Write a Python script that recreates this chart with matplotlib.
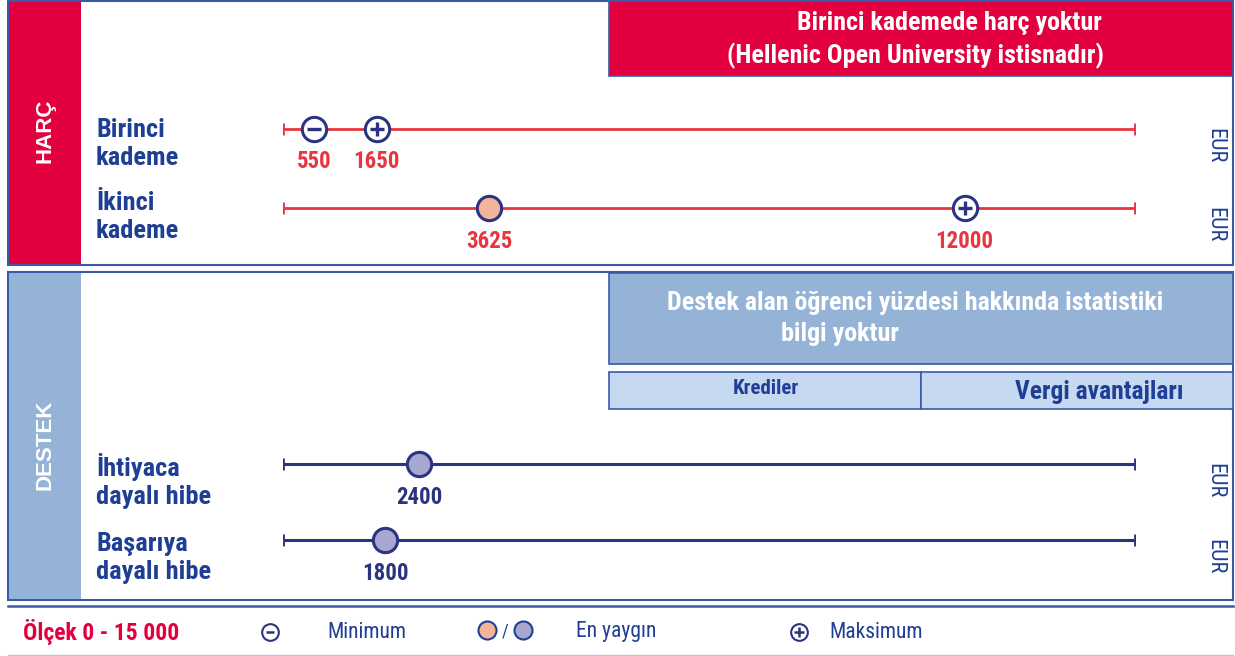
import matplotlib
matplotlib.use("Agg")
import matplotlib.pyplot as plt
from matplotlib.patches import Rectangle
from matplotlib import font_manager as fm

# ---------------- data ----------------
scale_max = 15000
fee_rows = ["Birinci\nkademe", "İkinci\nkademe"]
fee_min = [550, None]
fee_common = [None, 3625]
fee_max = [1650, 12000]
support_rows = ["İhtiyaca\ndayalı hibe", "Başarıya\ndayalı hibe"]
support_common = [2400, 1800]
unit = "EUR"
fee_note = ["Birinci kademede harç yoktur", "(Hellenic Open University istisnadır)"]
support_note = ["Destek alan öğrenci yüzdesi hakkında istatistiki", "bilgi yoktur"]
sub_boxes = ["Krediler", "Vergi avantajları"]
scale_label = "Ölçek 0 - 15 000"
legend_labels = ["Minimum", "En yaygın", "Maksimum"]

# ---------------- fonts ----------------
_names = {f.name for f in fm.fontManager.ttflist}
def pick(cands):
    for c in cands:
        if c in _names:
            return c
    return "DejaVu Sans"
NARROW_NAME = pick(["Arial Narrow", "Liberation Sans Narrow", "Roboto Condensed",
                    "Archivo Narrow", "PT Sans Narrow", "IBM Plex Sans Condensed"])
NARROW = [NARROW_NAME, "DejaVu Sans"]
SANS = [pick(["Arial", "Liberation Sans", "Arimo"]), "DejaVu Sans"]

# ---------------- style ----------------
RED = "#E2003F"
LINE_RED = "#E8353F"
NAVY = "#2B3480"
DARKBLUE = "#1E3F94"
LIGHTBLUE = "#95B3D7"
PALEBLUE = "#C6D9F0"
BORDER = "#3A5AA8"
SALMON = "#F2B59A"
LAVENDER = "#A9A7D0"
W, H = 1235, 656

fig = plt.figure(figsize=(W / 100, H / 100), dpi=100)
bg = fig.add_axes([0, 0, 1, 1])
bg.set_xlim(0, W)
bg.set_ylim(H, 0)
bg.axis("off")

def rect(x0, y0, x1, y1, fc, ec="none", lw=1.5, z=1):
    bg.add_patch(Rectangle((x0, y0), x1 - x0, y1 - y0, facecolor=fc,
                           edgecolor=ec, linewidth=lw, zorder=z))

# top panel
rect(8, 1, 1233, 265, "white", BORDER, 1.5)
rect(9, 2, 81, 264, RED, z=2)
bg.text(45, 131, "HARÇ", rotation=90, color="white", fontsize=16,
        fontweight="bold", ha="center", va="center", family=SANS, zorder=3)
rect(609, 1, 1233, 76, RED, BORDER, 1.2, z=2)
bg.text(1102, 23, fee_note[0], color="white", fontsize=18.7, fontweight="bold",
        ha="right", va="center", family=NARROW, zorder=3)
bg.text(1104, 56, fee_note[1], color="white", fontsize=18.7, fontweight="bold",
        ha="right", va="center", family=NARROW, zorder=3)

# bottom panel
rect(8, 272, 1233, 600, "white", BORDER, 1.5)
rect(9, 273, 81, 599, LIGHTBLUE, z=2)
bg.text(45, 445, "DESTEK", rotation=90, color="white", fontsize=16,
        fontweight="bold", ha="center", va="center", family=SANS, zorder=3)
rect(609, 273, 1233, 364, LIGHTBLUE, BORDER, 1.2, z=2)
bg.text(915, 303, support_note[0], color="white",
        fontsize=18.7, fontweight="bold", ha="center", va="center", family=NARROW, zorder=3)
bg.text(840, 334, support_note[1], color="white",
        fontsize=18.7, fontweight="bold", ha="center", va="center", family=NARROW, zorder=3)
rect(609, 372, 921, 409, PALEBLUE, BORDER, 1.2, z=2)
rect(921, 372, 1233, 409, PALEBLUE, BORDER, 1.2, z=2)
bg.text(766, 389, sub_boxes[0], color=DARKBLUE, fontsize=15, fontweight="bold",
        ha="center", va="center", family=NARROW, zorder=3)
bg.text(1099, 392, sub_boxes[1], color=DARKBLUE, fontsize=18.4, fontweight="bold",
        ha="center", va="center", family=NARROW, zorder=3)

# row labels
fee_y = [129, 208]
sup_y = [464, 540]
label_centers = [144, 217, 481, 558]
for lab, yc in zip(fee_rows + support_rows, label_centers):
    bg.text(96, yc, lab, color=DARKBLUE, fontsize=19, fontweight="bold",
            ha="left", va="center", family=NARROW, linespacing=1.22, zorder=3)
for y in fee_y + sup_y:
    bg.text(1215, y + 17, unit, rotation=270, color=DARKBLUE, fontsize=16,
            ha="center", va="center", family=NARROW, zorder=3)

# data axes
ax = fig.add_axes([283 / W, 0, 852 / W, 1])
ax.set_xlim(0, scale_max)
ax.set_ylim(H, 0)
ax.axis("off")
ax.patch.set_alpha(0)

MS = 17.5
def sym(x, y, kind, face="white"):
    ax.plot([x], [y], "o", ms=MS, mfc=face, mec=NAVY, mew=2.2, zorder=5)
    if kind == "min":
        ax.plot([x], [y], "_", ms=10, mec=NAVY, mew=2.4, zorder=6)
    elif kind == "max":
        ax.plot([x], [y], "+", ms=10, mec=NAVY, mew=2.4, zorder=6)

for i, y in enumerate(fee_y):
    ax.plot([0, scale_max], [y, y], color=LINE_RED, lw=2, zorder=2)
    ax.plot([0, scale_max], [y, y], "|", ms=9, mec=LINE_RED, mew=2, zorder=2)
    for v, kind in ((fee_min[i], "min"), (fee_common[i], "common"), (fee_max[i], "max")):
        if v is None:
            continue
        if kind == "common":
            sym(v, y, "none", SALMON)
        else:
            sym(v, y, kind)
        ax.text(v, y + 33, f"{v}", color=LINE_RED, fontsize=16.5, fontweight="bold",
                ha="center", va="center", family=NARROW, zorder=6)

for i, y in enumerate(sup_y):
    ax.plot([0, scale_max], [y, y], color=NAVY, lw=2.2, zorder=2)
    ax.plot([0, scale_max], [y, y], "|", ms=9, mec=NAVY, mew=2, zorder=2)
    v = support_common[i]
    sym(v, y, "none", LAVENDER)
    ax.text(v, y + 33, f"{v}", color=NAVY, fontsize=16.5, fontweight="bold",
            ha="center", va="center", family=NARROW, zorder=6)

# legend / footer
bg.plot([8, 1233], [606, 606], color=BORDER, lw=1.8)
bg.plot([8, 1233], [655, 655], color="#B8C4DA", lw=1)
ly = 632
bg.text(23, ly, scale_label, color=RED, fontsize=17, fontweight="bold",
        ha="left", va="center", family=NARROW)
bg.plot([270], [ly], "o", ms=12, mfc="white", mec=NAVY, mew=1.5)
bg.plot([270], [ly], "_", ms=6, mec=NAVY, mew=1.8)
bg.text(327, ly, legend_labels[0], color=DARKBLUE, fontsize=15.5, ha="left",
        va="center", family=NARROW)
bg.plot([487], [ly - 2], "o", ms=13, mfc=SALMON, mec=DARKBLUE, mew=1.5)
bg.text(505, ly, "/", color=DARKBLUE, fontsize=13, ha="center", va="center", family=NARROW)
bg.plot([523], [ly - 2], "o", ms=13, mfc=LAVENDER, mec=DARKBLUE, mew=1.5)
bg.text(576, ly, legend_labels[1], color=DARKBLUE, fontsize=15.5, ha="left",
        va="center", family=NARROW)
bg.plot([799], [ly], "o", ms=12, mfc="white", mec=NAVY, mew=1.5)
bg.plot([799], [ly], "+", ms=7, mec=NAVY, mew=1.8)
bg.text(829, ly, legend_labels[2], color=DARKBLUE, fontsize=15.5, ha="left",
        va="center", family=NARROW)

fig.savefig("out.png", dpi=100)
